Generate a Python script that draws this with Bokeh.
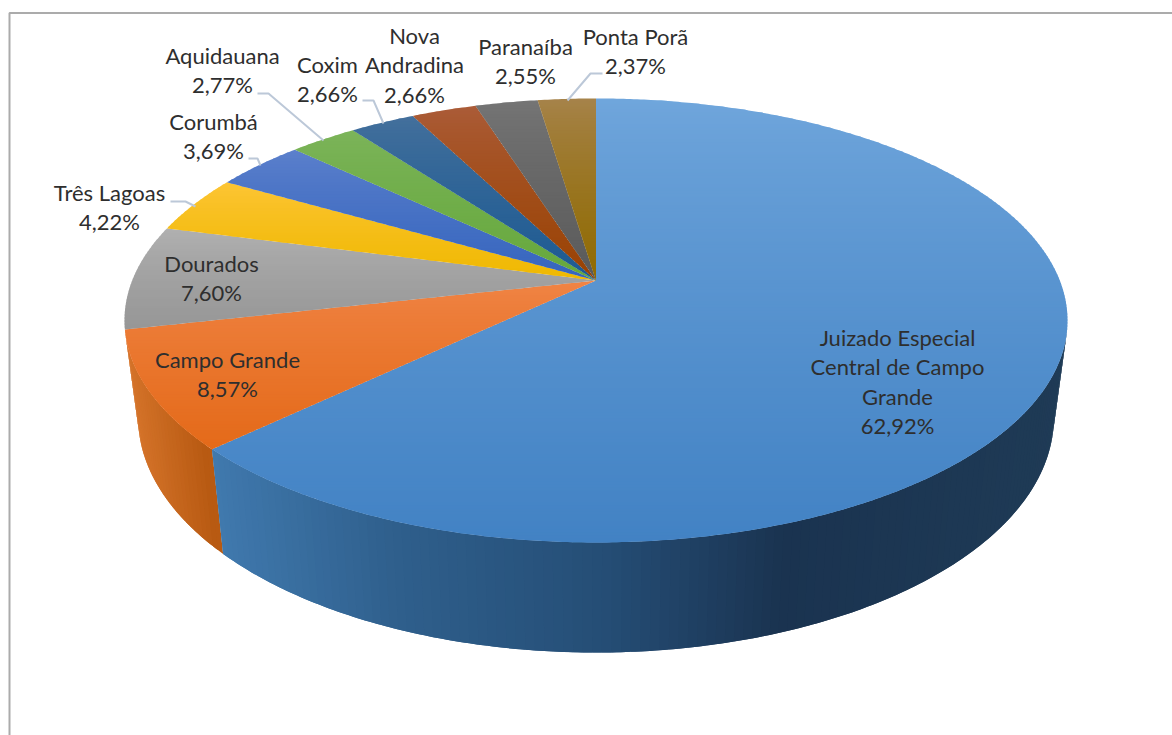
import math
from bokeh.plotting import figure
from bokeh.models import Range1d
from bokeh.embed import file_html
from bokeh.resources import INLINE
from bokeh.core.properties import value

# ---- data, clockwise from twelve o'clock
categories = ["Juizado Especial\nCentral de Campo\nGrande", "Campo Grande", "Dourados", "Três Lagoas",
              "Corumbá", "Aquidauana", "Coxim", "Nova\nAndradina", "Paranaíba", "Ponta Porã"]
shares = [62.92, 8.57, 7.60, 4.22, 3.69, 2.77, 2.66, 2.66, 2.55, 2.37]
share_labels = ["62,92%", "8,57%", "7,60%", "4,22%", "3,69%", "2,77%", "2,66%", "2,66%", "2,55%", "2,37%"]

# ---- styles and layout
top_light = ["#70A6DC", "#F08445", "#B0B0B0", "#FDC535", "#5C80CC", "#7CB45A", "#44709C", "#AB5C38", "#757575", "#A6834A"]
top_dark = ["#4282C4", "#E46A19", "#969696", "#EFB800", "#3565BE", "#66A83C", "#1C5A92", "#9A4202", "#5A5A5A", "#8F6A00"]
label_x = [897, 227, 211, 109, 213, 222, 327, 414, 525, 635]
label_y = [337, 359, 263, 192, 121, 55, 64, 35, 46, 36]
LINE_H = 29.3
leaders = [([170, 185, 195], [201, 201, 206]),
           ([248, 257, 260], [158, 158, 165]),
           ([257, 268, 323], [93, 93, 140]),
           ([362, 373, 383], [100, 100, 123]),
           ([602, 590, 567], [73, 73, 100])]

CX, K = 595.5, 0.18
TOP = dict(A=463.8, B=214.8, Y=280.0)
BASE = dict(A=450.4, B=227.4, Y=374.7)


def proj(theta, d):
    u, v = math.sin(theta), math.cos(theta)
    w = 1 + K * v
    return CX + d["A"] * u / w, d["Y"] - d["B"] * v / w


def hex2rgb(h):
    return tuple(int(h[i:i + 2], 16) for i in (1, 3, 5))


def mix(a, b, t):
    t = max(0.0, min(1.0, t))
    return "#%02x%02x%02x" % tuple(round(x + (y - x) * t) for x, y in zip(a, b))


def ramp(stops, x):
    for (x0, c0), (x1, c1) in zip(stops, stops[1:]):
        if x <= x1:
            return mix(hex2rgb(c0), hex2rgb(c1), (x - x0) / (x1 - x0))
    return stops[-1][1]


def clip(poly, y, keep_below):
    out = []
    ins = (lambda p: p[1] >= y) if keep_below else (lambda p: p[1] <= y)
    for i, a in enumerate(poly):
        b = poly[(i + 1) % len(poly)]
        if ins(a):
            out.append(a)
        if ins(a) != ins(b):
            t = (y - a[1]) / (b[1] - a[1])
            out.append((a[0] + (b[0] - a[0]) * t, y))
    return out


p = figure(width=1172, height=735, x_range=Range1d(0, 1172), y_range=Range1d(735, 0),
           toolbar_location=None, output_backend="svg", min_border=0,
           x_axis_location=None, y_axis_location=None, outline_line_color=None,
           background_fill_color="white")
p.grid.visible = False

# frame
p.line([9, 9, 1172], [735, 12.5, 12.5], line_color="#ababab", line_width=2)

total = sum(shares)
edges = [0.0]
for s in shares:
    edges.append(edges[-1] + s / total * 2 * math.pi)

# side wall of the two front slices: overlapping strips, painted in angle order
wall_stops = [
    [(120, "#4682B4"), (222, "#4079AE"), (400, "#2F5F8C"), (600, "#254E76"), (780, "#1A3350"), (1060, "#1F3B56")],
    [(120, "#DC7A30"), (215, "#B85A12")],
]
for i in (1, 0):
    n = max(2, int((edges[i + 1] - edges[i]) / math.radians(1.0)))
    xs, ys, cs = [], [], []
    for j in range(n):
        a0 = edges[i] + (edges[i + 1] - edges[i]) * j / n
        a1 = edges[i] + (edges[i + 1] - edges[i]) * (j + 1) / n
        if math.cos(a0) > -0.2:      # behind the top face
            continue
        a2 = min(a1 + math.radians(1.0), edges[i + 1])
        mid = [proj(a, BASE) for a in (a1, (a1 + a2) / 2, a2)]
        t0, t2 = proj(a0, TOP), proj(a2, TOP)
        b0 = proj(a0, BASE)
        tm, tm2 = proj(a1, TOP), proj((a1 + a2) / 2, TOP)
        xs.append([t0[0], tm[0], tm2[0], t2[0], mid[2][0], mid[1][0], mid[0][0], b0[0]])
        ys.append([t0[1], tm[1], tm2[1], t2[1], mid[2][1], mid[1][1], mid[0][1], b0[1]])
        cs.append(ramp(wall_stops[i], (b0[0] + mid[0][0]) / 2))
    p.patches(xs, ys, fill_color=cs, line_color=None)

# top face: one colour band after another, per slice
apex = (CX, TOP["Y"])
for i in range(len(shares)):
    n = max(6, int((edges[i + 1] - edges[i]) / math.radians(0.5)))
    outline = [apex] + [proj(edges[i] + (edges[i + 1] - edges[i]) * j / n, TOP) for j in range(n + 1)]
    y_min = min(q[1] for q in outline)
    y_max = max(q[1] for q in outline)
    c0, c1 = hex2rgb(top_light[i]), hex2rgb(top_dark[i])
    step = 3
    xs, ys, cs = [], [], []
    y = math.floor(y_min)
    while y < y_max:
        band = clip(clip(outline, y, True), y + step + 1, False)
        if len(band) >= 3:
            xs.append([q[0] for q in band])
            ys.append([q[1] for q in band])
            cs.append(mix(c0, c1, ((y - y_min) / (y_max - y_min)) ** 0.8 if y > y_min else 0))
        y += step
    p.patches(xs, ys, fill_color=cs, line_color=None)

# leader lines
for lx, ly in leaders:
    p.line(lx, ly, line_color="#BCC8D8", line_width=2)

# labels
tx, ty, tt = [], [], []
for name, pct, x, y in zip(categories, share_labels, label_x, label_y):
    for k, row in enumerate(name.split("\n") + [pct]):
        tx.append(x)
        ty.append(y + k * LINE_H)
        tt.append(row)
p.text(tx, ty, text=tt, text_font=value("Lato"), text_font_size="22px", text_color="#2E2E2E",
       text_align="center", text_baseline="middle")

open("out.html", "w").write(file_html(p, INLINE))
